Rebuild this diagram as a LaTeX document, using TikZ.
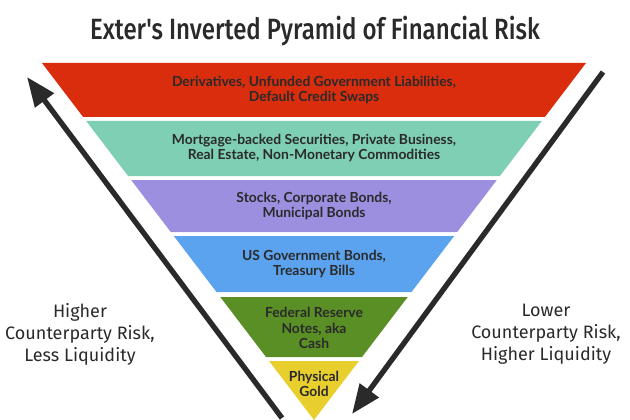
\documentclass[tikz,border=0pt]{standalone}
\usepackage{fontspec}
\setmainfont{Lato}
\newfontfamily\titlefont[FakeStretch=0.82]{Fira Sans Medium}
\newfontfamily\sidefont{Fira Sans}
\usetikzlibrary{arrows.meta}
\definecolor{cred}{HTML}{D92D0E}
\definecolor{cteal}{HTML}{7ECFB3}
\definecolor{cpurple}{HTML}{9C8FE0}
\definecolor{cblue}{HTML}{5BA3EE}
\definecolor{cgreen}{HTML}{5A8F25}
\definecolor{cyellow}{HTML}{E8CF2E}
\definecolor{ctext}{HTML}{2A2A2A}
\tikzset{
 bandtext/.style={font=\bfseries\fontsize{10.4}{11.8}\selectfont, text=ctext, align=center},
 sidetext/.style={font=\sidefont\fontsize{13.5}{16.5}\selectfont, text=ctext, align=center},
 bigarrow/.style={line width=4pt, draw=ctext, -{Triangle[length=22pt,width=17pt]}}
}
\newcommand{\myband}[4]{%
 \fill[#3] ({314-0.7619*(420-#1)},#1) -- ({314+0.7619*(420-#1)},#1) -- ({314+0.7619*(420-#2)},#2) -- ({314-0.7619*(420-#2)},#2) -- cycle;}
\begin{document}
\begin{tikzpicture}[x=0.75pt,y=-0.75pt]
\useasboundingbox (0,0) rectangle (630,420);
\clip (0,0) rectangle (630,420);
\node[font=\titlefont\fontsize{22}{24}\selectfont, text=ctext] (title) at (315,31) {Exter's Inverted Pyramid of Financial Risk};
\myband{63}{117}{cred}{}
\myband{121}{176}{cteal}{}
\myband{180}{232}{cpurple}{}
\myband{236}{292}{cblue}{}
\myband{297}{357}{cgreen}{}
\myband{361}{430}{cyellow}{}
\node[bandtext] (b1) at (314,90) {Derivatives, Unfunded Government Liabilities,\\Default Credit Swaps};
\node[bandtext] (b2) at (314,148) {Mortgage-backed Securities, Private Business,\\Real Estate, Non-Monetary Commodities};
\node[bandtext] (b3) at (314,206) {Stocks, Corporate Bonds,\\Municipal Bonds};
\node[bandtext] (b4) at (314,264) {US Government Bonds,\\Treasury Bills};
\node[bandtext] (b5) at (314,328) {Federal Reserve\\Notes, aka\\Cash};
\node[bandtext] (b6) at (314,384) {Physical\\Gold};
\node[sidetext] (lt) at (80,334) {Higher\\Counterparty Risk,\\Less Liquidity};
\node[sidetext] (rt) at (546,334) {Lower\\Counterparty Risk,\\Higher Liquidity};
\coordinate (la) at (282,418); \coordinate (lb) at (27,77);
\coordinate (ra) at (603,72); \coordinate (rb) at (352,414);
\draw[bigarrow] (la) -- (lb);
\draw[bigarrow] (ra) -- (rb);
\end{tikzpicture}
\end{document}
